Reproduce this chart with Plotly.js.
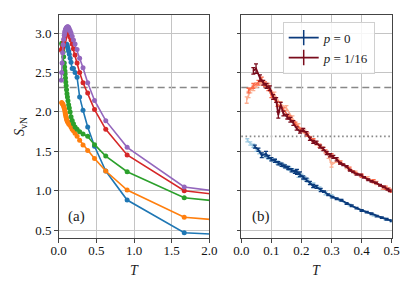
<!DOCTYPE html>
<html><head><meta charset="utf-8">
<script src="https://cdn.plot.ly/plotly-3.0.1.min.js"></script>
<style>html,body{margin:0;padding:0;background:#fff}#chart{width:415px;height:291px}</style>
</head><body><div id="chart"></div>
<script>
// ---------- panel (a) ----------
const T_blue = [10, 1.667, 0.909, 0.625, 0.476, 0.385, 0.323, 0.278, 0.244, 0.217, 0.196, 0.179, 0.164, 0.152, 0.141, 0.132, 0.123, 0.116, 0.110, 0.104];
const S_blue = [0.05, 0.469, 0.883, 1.251, 1.565, 1.81, 2.02, 2.19, 2.44, 2.50, 2.55, 2.55, 2.63, 2.68, 2.73, 2.77, 2.80, 2.83, 2.85, 2.86];

const T_low = [10, 1.667, 0.909, 0.625, 0.476, 0.385, 0.323, 0.278, 0.244, 0.217, 0.196, 0.179, 0.164, 0.152, 0.141, 0.132, 0.123, 0.116, 0.110, 0.104, 0.099, 0.094, 0.090, 0.086, 0.083, 0.079, 0.074, 0.066, 0.059, 0.052, 0.045, 0.040];
const S_orange = [0.04, 0.664, 1.010, 1.251, 1.41, 1.51, 1.58, 1.64, 1.69, 1.73, 1.76, 1.78, 1.81, 1.83, 1.84, 1.85, 1.87, 1.88, 1.89, 1.91, 1.93, 1.95, 1.97, 1.99, 2.01, 2.03, 2.05, 2.07, 2.09, 2.10, 2.11, 2.12];
const S_green = [0.08, 0.913, 1.242, 1.441, 1.585, 1.69, 1.72, 1.75, 1.78, 1.81, 1.85, 1.89, 1.94, 2.00, 2.05, 2.09, 2.14, 2.19, 2.23, 2.28, 2.33, 2.38, 2.43, 2.48, 2.52, 2.57, 2.62, 2.70, 2.76, 2.81, 2.85, 2.87];

const T_high = [10, 1.667, 0.909, 0.625, 0.476, 0.385, 0.323, 0.278, 0.244, 0.217, 0.196, 0.179, 0.164, 0.152, 0.141, 0.132, 0.123, 0.116, 0.110, 0.104, 0.099, 0.094, 0.090, 0.086, 0.083, 0.079, 0.074, 0.066, 0.059, 0.052, 0.045, 0.040, 0.035];
const S_red = [0.06, 1.001, 1.454, 1.779, 2.03, 2.24, 2.37, 2.50, 2.62, 2.72, 2.80, 2.86, 2.91, 2.95, 2.98, 3.00, 3.01, 3.02, 3.02, 3.01, 3.00, 2.99, 2.98, 2.96, 2.95, 2.93, 2.91, 2.88, 2.85, 2.82, 2.80, 2.79, 2.78];
const S_purple = [0.02, 1.048, 1.551, 1.889, 2.145, 2.37, 2.56, 2.68, 2.79, 2.86, 2.91, 2.96, 3.00, 3.03, 3.05, 3.07, 3.08, 3.08, 3.07, 3.07, 3.06, 3.05, 3.04, 3.03, 3.02, 3.00, 2.97, 2.92, 2.85, 2.75, 2.62, 2.50, 2.40];

// ---------- panel (b) ----------
const T_p0 = [0.045, 0.057, 0.068, 0.082, 0.090, 0.100, 0.112, 0.123, 0.134, 0.145, 0.156, 0.167, 0.178, 0.185, 0.195, 0.206, 0.217, 0.228, 0.239, 0.250, 0.264, 0.275, 0.289, 0.303, 0.317, 0.333, 0.350, 0.367, 0.383, 0.400, 0.417, 0.433, 0.450, 0.467, 0.483, 0.500];
const S_p0 = [1.56, 1.52, 1.45, 1.47, 1.43, 1.40, 1.38, 1.35, 1.33, 1.31, 1.29, 1.26, 1.24, 1.24, 1.21, 1.17, 1.14, 1.10, 1.06, 1.05, 1.01, 0.99, 0.95, 0.92, 0.90, 0.88, 0.84, 0.81, 0.78, 0.75, 0.73, 0.71, 0.68, 0.66, 0.64, 0.62];
const E_p0 = [0.02, 0.02, 0.03, 0.03, 0.02, 0.02, 0.02, 0.02, 0.02, 0.02, 0.02, 0.02, 0.02, 0.03, 0.03, 0.02, 0.02, 0.02, 0.02, 0.02, 0.02, 0.01, 0.01, 0.01, 0.01, 0.01, 0.01, 0.01, 0.01, 0.01, 0.01, 0.01, 0.01, 0.01, 0.01, 0.01];

const T_p0_light = [0.020, 0.030, 0.040, 0.050, 0.060, 0.070, 0.080, 0.090, 0.100, 0.110, 0.120, 0.130, 0.140, 0.150, 0.160, 0.170, 0.180, 0.190, 0.200, 0.210, 0.220, 0.240, 0.260, 0.280, 0.300, 0.330, 0.360, 0.400, 0.440, 0.480, 0.500];
const S_p0_light = [1.64, 1.60, 1.57, 1.52, 1.49, 1.46, 1.44, 1.42, 1.40, 1.38, 1.36, 1.34, 1.32, 1.30, 1.28, 1.26, 1.24, 1.20, 1.19, 1.16, 1.13, 1.08, 1.03, 0.97, 0.93, 0.88, 0.82, 0.75, 0.69, 0.64, 0.62];
const E_p0_light = [0.02, 0.02, 0.02, 0.02, 0.02, 0.02, 0.02, 0.02, 0.02, 0.02, 0.02, 0.02, 0.02, 0.02, 0.02, 0.02, 0.02, 0.03, 0.02, 0.02, 0.02, 0.02, 0.02, 0.02, 0.02, 0.01, 0.01, 0.01, 0.01, 0.01, 0.01];

const T_p16 = [0.040, 0.049, 0.062, 0.073, 0.084, 0.095, 0.106, 0.116, 0.123, 0.131, 0.140, 0.153, 0.163, 0.173, 0.184, 0.195, 0.206, 0.217, 0.228, 0.239, 0.250, 0.262, 0.273, 0.284, 0.295, 0.306, 0.317, 0.328, 0.339, 0.350, 0.361, 0.372, 0.383, 0.397, 0.408, 0.422, 0.433, 0.448, 0.461, 0.474, 0.486, 0.494];
const S_p16 = [2.52, 2.55, 2.43, 2.37, 2.33, 2.30, 2.19, 2.15, 1.96, 2.09, 1.98, 1.94, 1.90, 1.86, 1.79, 1.75, 1.77, 1.73, 1.66, 1.62, 1.61, 1.56, 1.53, 1.48, 1.45, 1.43, 1.40, 1.35, 1.33, 1.31, 1.26, 1.24, 1.21, 1.20, 1.17, 1.14, 1.12, 1.10, 1.07, 1.05, 1.02, 1.00];
const E_p16 = [0.04, 0.06, 0.04, 0.03, 0.03, 0.03, 0.03, 0.03, 0.04, 0.03, 0.03, 0.03, 0.03, 0.03, 0.02, 0.02, 0.02, 0.02, 0.02, 0.02, 0.02, 0.02, 0.02, 0.02, 0.02, 0.02, 0.02, 0.01, 0.01, 0.01, 0.01, 0.01, 0.01, 0.01, 0.01, 0.01, 0.01, 0.01, 0.01, 0.01, 0.01, 0.01];

const T_p16_mid = [0.024, 0.040, 0.057, 0.068, 0.079, 0.090, 0.100, 0.120, 0.140, 0.160, 0.180, 0.200, 0.220, 0.240, 0.260, 0.280, 0.300, 0.330, 0.360, 0.400, 0.440, 0.480, 0.500];
const S_p16_mid = [2.27, 2.33, 2.37, 2.41, 2.35, 2.30, 2.21, 2.10, 2.03, 1.93, 1.85, 1.77, 1.71, 1.64, 1.57, 1.50, 1.45, 1.36, 1.28, 1.19, 1.12, 1.04, 1.00];
const E_p16_mid = [0.03, 0.03, 0.03, 0.03, 0.03, 0.03, 0.03, 0.03, 0.02, 0.02, 0.02, 0.02, 0.02, 0.02, 0.02, 0.02, 0.02, 0.02, 0.02, 0.02, 0.02, 0.02, 0.02];

const T_p16_light = [0.018, 0.024, 0.030, 0.040, 0.050, 0.070, 0.090, 0.110, 0.130, 0.150, 0.170, 0.190, 0.210, 0.230, 0.250, 0.270, 0.290, 0.300, 0.320, 0.350, 0.380, 0.420, 0.450, 0.470, 0.490];
const S_p16_light = [2.15, 2.22, 2.27, 2.30, 2.34, 2.37, 2.33, 2.22, 2.10, 2.05, 1.92, 1.82, 1.75, 1.67, 1.60, 1.54, 1.44, 1.33, 1.38, 1.30, 1.23, 1.16, 1.10, 1.04, 1.02];
const E_p16_light = [0.04, 0.04, 0.03, 0.03, 0.03, 0.03, 0.03, 0.03, 0.03, 0.03, 0.03, 0.03, 0.02, 0.02, 0.02, 0.02, 0.03, 0.03, 0.02, 0.02, 0.02, 0.02, 0.02, 0.02, 0.02];

const legendNames = ['<i>p</i> = 0', '<i>p</i> = 1/16'];
const dashedLevel = 2.31;
const dottedLevel = 1.69;

const FONT = '"Liberation Serif", "DejaVu Serif", serif';
const C_P0 = '#0b3b7c', C_P16 = '#7a0c1c';

function lineA(x, y, color) {
  return {x: x, y: y, type: 'scatter', mode: 'lines+markers', xaxis: 'x', yaxis: 'y',
    line: {color: color, width: 1.6}, marker: {color: color, size: 5}, showlegend: false, cliponaxis: true};
}
function lineB(x, y, e, color, width) {
  return {x: x, y: y, type: 'scatter', mode: 'lines', xaxis: 'x2', yaxis: 'y2', showlegend: false,
    line: {color: color, width: width},
    error_y: {type: 'data', array: e, visible: true, color: color, thickness: 1.3, width: 2}};
}
function legendEntry(name, color) {
  return {x: [null], y: [null], type: 'scatter', mode: 'lines+markers', xaxis: 'x2', yaxis: 'y2', name: name, showlegend: true,
    line: {color: color, width: 1.8}, marker: {symbol: 'line-ns-open', size: 11, color: color, line: {color: color, width: 1.5}}};
}

const traces = [
  lineA(T_blue, S_blue, '#1f77b4'),
  lineA(T_low, S_orange, '#ff7f0e'),
  lineA(T_low, S_green, '#2ca02c'),
  lineA(T_high, S_red, '#d62728'),
  lineA(T_high, S_purple, '#9467bd'),
  lineB(T_p0_light, S_p0_light, E_p0_light, '#9ecae1', 1.6),
  lineB(T_p0, S_p0, E_p0, C_P0, 1.8),
  lineB(T_p16_light, S_p16_light, E_p16_light, '#fcae91', 1.6),
  lineB(T_p16_mid, S_p16_mid, E_p16_mid, '#fb6a4a', 1.6),
  lineB(T_p16, S_p16, E_p16, C_P16, 1.8),
  legendEntry(legendNames[0], C_P0),
  legendEntry(legendNames[1], C_P16)
];

const axisCommon = {
  showgrid: true, gridcolor: '#c4c4c4', gridwidth: 1,
  showline: true, linecolor: '#444', linewidth: 1.1, mirror: true,
  ticks: 'outside', ticklen: 3.5, tickwidth: 1, tickcolor: '#444',
  zeroline: false, tickfont: {family: FONT, size: 13, color: '#111'}
};

const yDom = [1 - 238 / 291, 1 - 14.7 / 291];
const layout = {
  width: 415, height: 291, margin: {l: 0, r: 0, t: 0, b: 0},
  paper_bgcolor: '#fff', plot_bgcolor: '#fff',
  font: {family: FONT, size: 13, color: '#111'},
  xaxis: Object.assign({}, axisCommon, {domain: [58.7 / 415, 209.3 / 415], range: [0, 2], tickvals: [0, 0.5, 1, 1.5, 2], tickformat: '.1f', anchor: 'y', ticklabelstandoff: -3}),
  yaxis: Object.assign({}, axisCommon, {domain: yDom, range: [0.402, 3.232], tickvals: [0.5, 1, 1.5, 2, 2.5, 3], tickformat: '.1f', anchor: 'x'}),
  xaxis2: Object.assign({}, axisCommon, {domain: [241.3 / 415, 391.7 / 415], range: [0, 0.5], tickvals: [0, 0.1, 0.2, 0.3, 0.4, 0.5], tickformat: '.1f', anchor: 'y2', ticklabelstandoff: -3}),
  yaxis2: Object.assign({}, axisCommon, {domain: yDom, range: [0.402, 3.232], tickvals: [0.5, 1, 1.5, 2, 2.5, 3], showticklabels: false, anchor: 'x2'}),
  shapes: [
    {type: 'line', layer: 'below', xref: 'x domain', x0: 0, x1: 1, yref: 'y', y0: dashedLevel, y1: dashedLevel, line: {color: '#888', width: 1.6, dash: '7px,4px'}},
    {type: 'line', layer: 'below', xref: 'x2 domain', x0: 0, x1: 1, yref: 'y2', y0: dashedLevel, y1: dashedLevel, line: {color: '#888', width: 1.6, dash: '7px,4px'}},
    {type: 'line', layer: 'below', xref: 'x2 domain', x0: 0, x1: 1, yref: 'y2', y0: dottedLevel, y1: dottedLevel, line: {color: '#888', width: 1.6, dash: '1.6px,2.6px'}}
  ],
  legend: {x: 282.7 / 415, y: 1 - 21.7 / 291, xanchor: 'left', yanchor: 'top', bgcolor: 'rgba(255,255,255,0.85)',
    bordercolor: '#d0d0d0', borderwidth: 1, font: {family: FONT, size: 13, color: '#222'}, tracegroupgap: 0},
  annotations: [
    {text: '(a)', xref: 'paper', yref: 'paper', x: 76.5 / 415, y: 1 - 216 / 291, xanchor: 'center', yanchor: 'middle', showarrow: false, font: {family: FONT, size: 15, color: '#222'}},
    {text: '(b)', xref: 'paper', yref: 'paper', x: 260.5 / 415, y: 1 - 216 / 291, xanchor: 'center', yanchor: 'middle', showarrow: false, font: {family: FONT, size: 15, color: '#222'}},
    {text: '<i>T</i>', xref: 'paper', yref: 'paper', x: 134 / 415, y: 1 - 270 / 291, xanchor: 'center', yanchor: 'middle', showarrow: false, font: {family: FONT, size: 14, color: '#222'}},
    {text: '<i>T</i>', xref: 'paper', yref: 'paper', x: 316.5 / 415, y: 1 - 270 / 291, xanchor: 'center', yanchor: 'middle', showarrow: false, font: {family: FONT, size: 14, color: '#222'}},
    {text: '<i>S</i><sub>vN</sub>', xref: 'paper', yref: 'paper', x: 20 / 415, y: 1 - 127 / 291, xanchor: 'center', yanchor: 'middle', textangle: -90, showarrow: false, font: {family: FONT, size: 14, color: '#222'}}
  ]
};

Plotly.newPlot('chart', traces, layout, {staticPlot: true, displayModeBar: false});
</script></body></html>
